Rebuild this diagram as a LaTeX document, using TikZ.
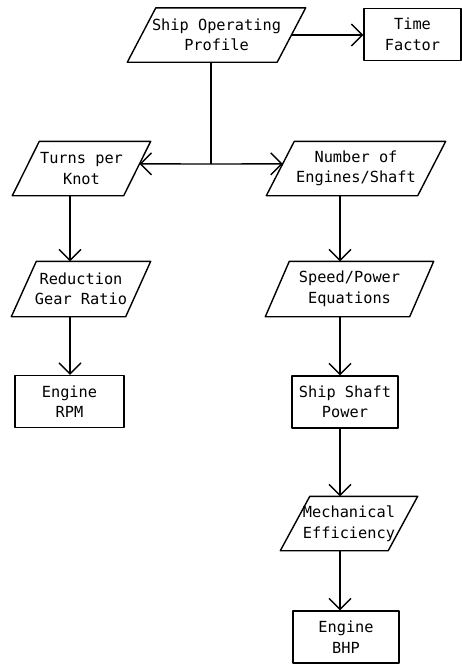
\documentclass[tikz,border=0pt]{standalone}
\usepackage{fontspec}
\setmainfont{DejaVu Sans Mono}
\usetikzlibrary{arrows.meta,calc}
\newcommand\drawpara[2]{\draw ([xshift=#2]#1.north west) -- (#1.north east) -- ([xshift=-#2]#1.south east) -- (#1.south west) -- cycle;}
\begin{document}
\begin{tikzpicture}[x=1pt,y=-1pt, line width=1.4pt, line join=round,
  txt/.style={font=\fontsize{15.3}{20.5}\selectfont, align=center, inner sep=0pt},
  boxnode/.style={txt, draw, minimum width=#1, minimum height=52pt},
  paranode/.style={txt, minimum width=#1, minimum height=53pt},
  arr/.style={-{Straight Barb[length=11pt,width=22pt,line width=1.4pt]}}]
\useasboundingbox (0,0) rectangle (461,664);
\node[paranode=177pt] (sop) at (216.5,35) {Ship Operating\\Profile};
\node[boxnode=97pt] (tf) at (412.5,34.5) {Time\\Factor};
\node[paranode=137pt] (tpk) at (81.5,168.5) {Turns per\\Knot};
\node[paranode=178pt] (noe) at (356,168.5) {Number of\\Engines/Shaft};
\node[paranode=138pt, minimum height=54pt] (rgr) at (81,289) {Reduction\\Gear Ratio};
\node[paranode=167pt, minimum height=54pt] (spe) at (349.5,289) {Speed/Power\\Equations};
\node[boxnode=109pt] (rpm) at (69.5,401.5) {Engine\\RPM};
\node[boxnode=106pt] (ssp) at (345,402) {Ship Shaft\\Power};
\node[paranode=136pt] (mech) at (349,523.5) {Mechanical\\Efficiency};
\node[boxnode=106pt] (bhp) at (346,637) {Engine\\BHP};
\drawpara{sop}{28.5pt}
\drawpara{tpk}{27pt}
\drawpara{noe}{28pt}
\drawpara{rgr}{25pt}
\drawpara{spe}{24pt}
\drawpara{mech}{29.5pt}
\coordinate (j) at (211,164);
\coordinate (lc) at (70,0);
\coordinate (rc) at (340,0);
\coordinate (sopR) at ([xshift=-14.25pt]sop.east);
\draw[arr] (sopR) -- (sopR -| tf.west);
\draw (sop.south -| j) -- (j);
\draw[arr] (j) -- ($([xshift=-27pt]tpk.south east)!0.585!(tpk.north east)$);
\draw[arr] (j) -- ($(noe.south west)!0.585!([xshift=28pt]noe.north west)$);
\draw[arr] (tpk.south -| lc) -- (rgr.north -| lc);
\draw[arr] (rgr.south -| lc) -- (rpm.north -| lc);
\draw[arr] (noe.south -| rc) -- (spe.north -| rc);
\draw[arr] (spe.south -| rc) -- (ssp.north -| rc);
\draw[arr] (ssp.south -| rc) -- (mech.north -| rc);
\draw[arr] (mech.south -| rc) -- (bhp.north -| rc);
\end{tikzpicture}
\end{document}
